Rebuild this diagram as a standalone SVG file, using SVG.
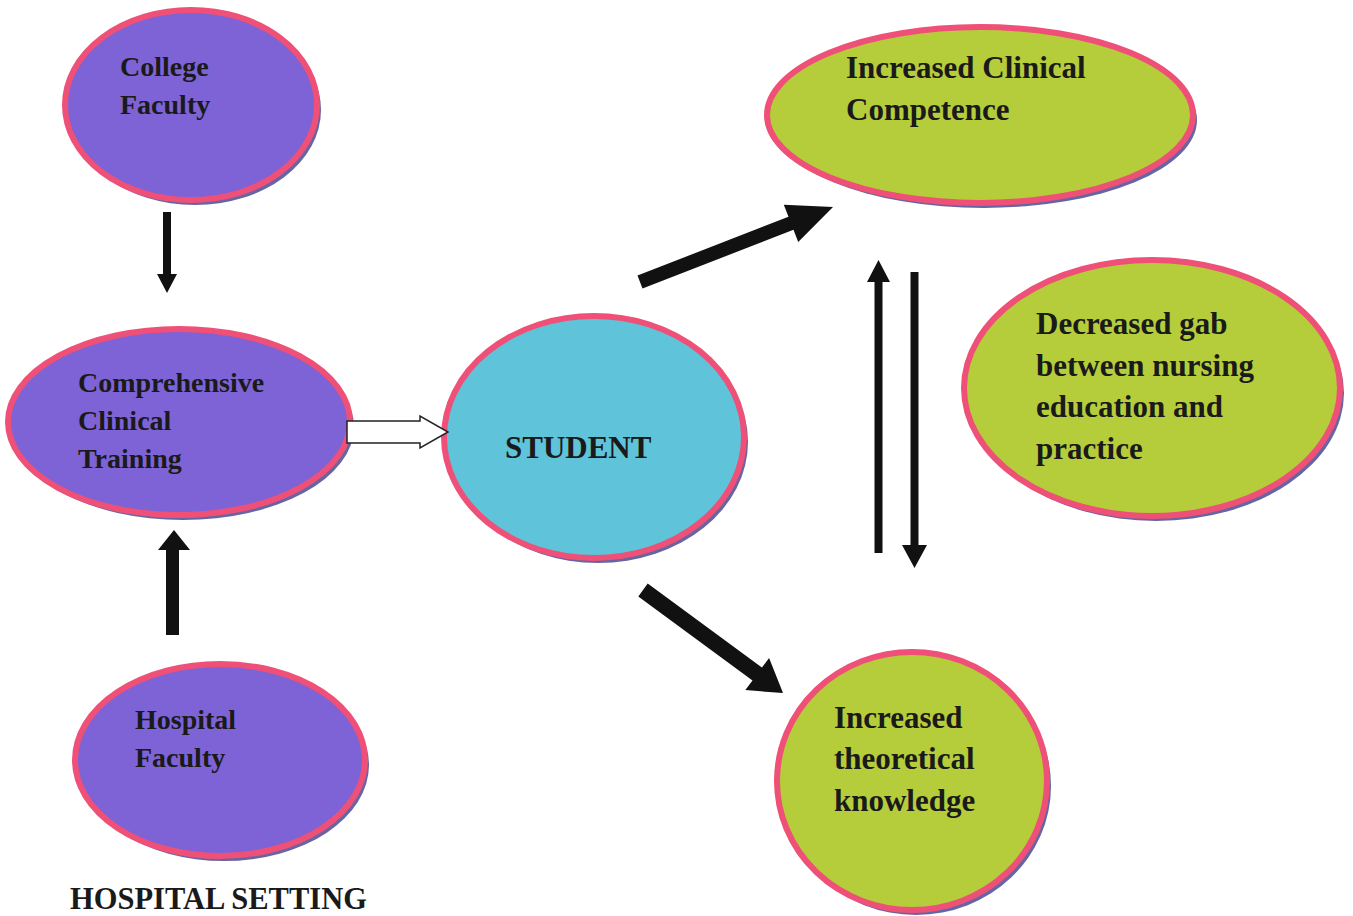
<svg xmlns="http://www.w3.org/2000/svg" width="1353" height="916" viewBox="0 0 1353 916">
<style>
.shadow{fill:#4b4a93;opacity:0.85}
.node{stroke:#ee5077;stroke-width:6}
.purple{fill:#7d63d6}
.green{fill:#b6cd3b}
.teal{fill:#5fc3da}
.lbl{font-family:"Liberation Serif","Times New Roman",serif;font-weight:bold;font-size:28px;fill:#1a1a1a}
.big{font-size:31px}
.arrow{fill:#111}
.hollow{fill:#fff;stroke:#222;stroke-width:1.5}
</style>
<rect width="1353" height="916" fill="#fff"/>
<g id="college-faculty">
<ellipse class="shadow" cx="195" cy="110" rx="126" ry="95"/>
<ellipse class="node purple" cx="191" cy="105" rx="126" ry="95"/>
<text class="lbl" x="120" y="76">College</text>
<text class="lbl" x="120" y="114">Faculty</text>
</g>
<g id="comprehensive-clinical-training">
<ellipse class="shadow" cx="183" cy="427" rx="171" ry="93"/>
<ellipse class="node purple" cx="179" cy="422" rx="171" ry="93"/>
<text class="lbl" x="78" y="392">Comprehensive</text>
<text class="lbl" x="78" y="430">Clinical</text>
<text class="lbl" x="78" y="468">Training</text>
</g>
<g id="hospital-faculty">
<ellipse class="shadow" cx="224" cy="765" rx="145" ry="96"/>
<ellipse class="node purple" cx="220" cy="760" rx="145" ry="96"/>
<text class="lbl" x="135" y="729">Hospital</text>
<text class="lbl" x="135" y="767">Faculty</text>
</g>
<g id="student">
<ellipse class="shadow" cx="598" cy="442" rx="150" ry="121"/>
<ellipse class="node teal" cx="594" cy="437" rx="150" ry="121"/>
<text class="lbl big" x="505" y="458">STUDENT</text>
</g>
<g id="increased-clinical-competence">
<ellipse class="shadow" cx="984" cy="120" rx="213" ry="88"/>
<ellipse class="node green" cx="980" cy="115" rx="213" ry="88"/>
<text class="lbl big" x="846" y="78">Increased Clinical</text>
<text class="lbl big" x="846" y="120">Competence</text>
</g>
<g id="decreased-gap">
<ellipse class="shadow" cx="1156" cy="393" rx="188" ry="128"/>
<ellipse class="node green" cx="1152" cy="388" rx="188" ry="128"/>
<text class="lbl big" x="1036" y="334">Decreased gab</text>
<text class="lbl big" x="1036" y="376">between nursing</text>
<text class="lbl big" x="1036" y="417">education and</text>
<text class="lbl big" x="1036" y="459">practice</text>
</g>
<g id="increased-theoretical-knowledge">
<ellipse class="shadow" cx="916" cy="786" rx="135" ry="129"/>
<ellipse class="node green" cx="912" cy="781" rx="135" ry="129"/>
<text class="lbl big" x="834" y="728">Increased</text>
<text class="lbl big" x="834" y="769">theoretical</text>
<text class="lbl big" x="834" y="811">knowledge</text>
</g>
<g id="connectors">
<polygon class="arrow" points="163,212 171,212 171,274 177,274 167,293 157,274 163,274"/>
<polygon class="arrow" points="166,635 179,635 179,550 190,550 174,530 158,550 166,550"/>
<polygon class="hollow" points="347,421 420,421 420,416 448,432 420,448 420,443 347,443"/>
<polygon class="arrow" points="642.5,288.5 793.5,229.8 798.2,242 833,207 783.8,204.7 788.5,216.8 637.5,275.5"/>
<polygon class="arrow" points="647.7,583.6 761.9,667.6 769.1,657.9 783,693 745.3,690.1 752.5,680.4 638.3,596.4"/>
<polygon class="arrow" points="874.5,553 882.5,553 882.5,282 890,282 878.5,260 867,282 874.5,282"/>
<polygon class="arrow" points="910.5,272 918.5,272 918.5,545 927,545 914.5,568 902,545 910.5,545"/>
</g>
<text class="lbl" x="70" y="909" style="font-size:30.5px">HOSPITAL SETTING</text>
</svg>
